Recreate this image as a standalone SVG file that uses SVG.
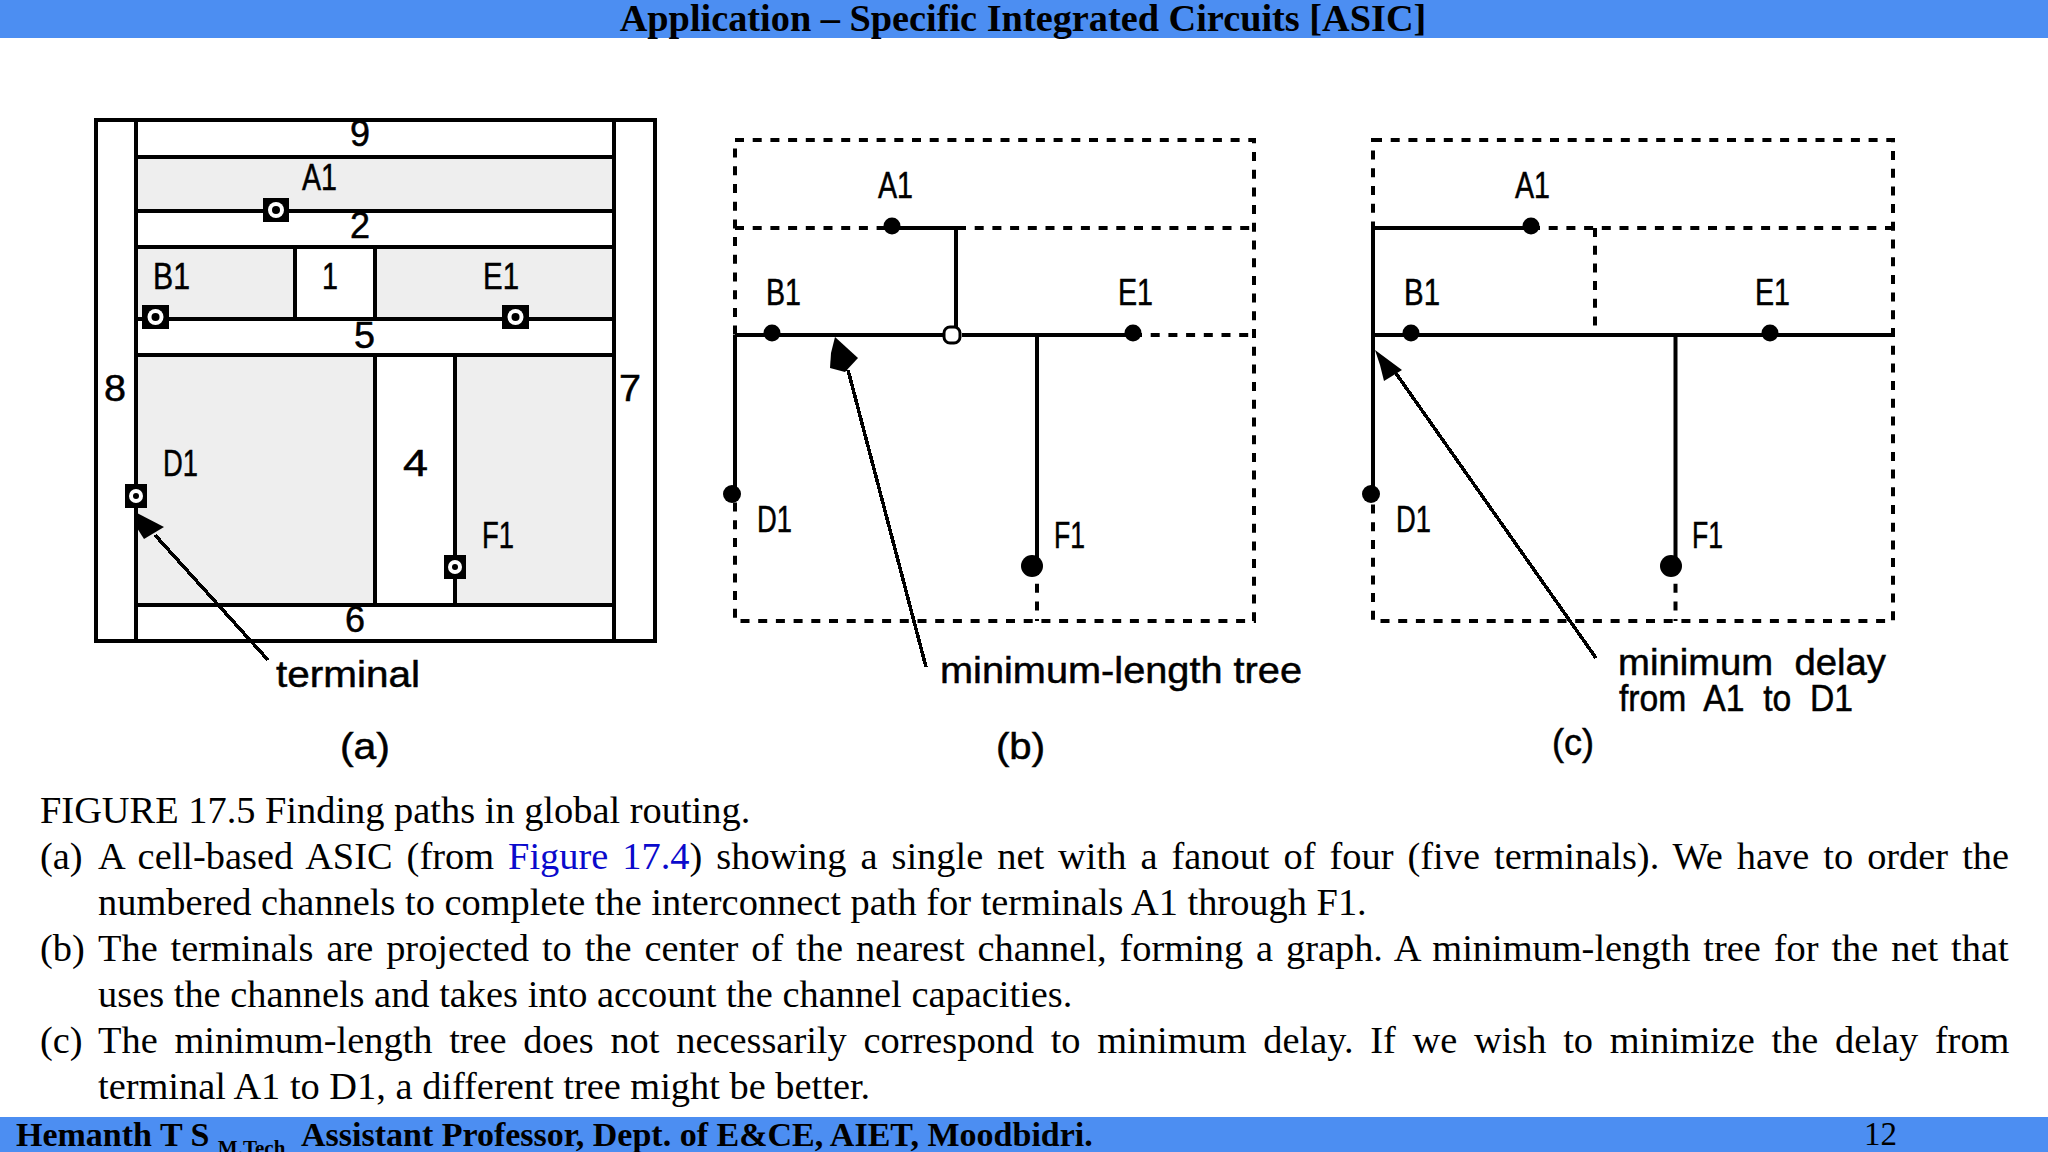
<svg xmlns="http://www.w3.org/2000/svg" width="2048" height="1152" viewBox="0 0 2048 1152">
<style>
.ln{stroke:#000;stroke-width:4;fill:none}
.th{stroke:#000;stroke-width:3.5;fill:none;shape-rendering:crispEdges}
.ds{stroke:#000;stroke-width:4;fill:none;stroke-dasharray:9 8.7}
.lb{font-family:"Liberation Sans",Arial,sans-serif;font-size:37px;fill:#000;stroke:#000;stroke-width:.5}
.bd{font-family:"Liberation Serif","Times New Roman",serif;font-size:38.4px;fill:#000}
.hd{font-family:"Liberation Serif","Times New Roman",serif;font-size:38.3px;font-weight:bold;fill:#000}
.ft{font-family:"Liberation Serif","Times New Roman",serif;font-size:34px;font-weight:bold;fill:#000}
.gr{fill:#eee}
</style>
<rect width="2048" height="1152" fill="#fff"/>
<rect width="2048" height="38" fill="#4c8ef2"/>
<rect y="1117" width="2048" height="35" fill="#4c8ef2"/>
<text class="hd" x="1023" y="31" text-anchor="middle">Application – Specific Integrated Circuits [ASIC]</text>
<g id="panel-a">
<rect class="gr" x="136" y="157" width="478" height="53"/>
<rect class="gr" x="136" y="247" width="159" height="72"/>
<rect class="gr" x="375" y="247" width="239" height="72"/>
<rect class="gr" x="136" y="355" width="239" height="250"/>
<rect class="gr" x="455" y="355" width="159" height="250"/>
<path class="ln" d="M96 120H655V641H96ZM136 120V641M614 120V641M136 157H614M136 211H614M136 247H614M136 319H614M136 355H614M136 605H614M295 247V319M375 247V319M375 355V605M455 355V605"/>
</g>
<g id="terminals">
<g id="t-a1"><rect x="263" y="198" width="26" height="24"/><circle cx="276" cy="210" r="8" fill="#fff"/><circle cx="276" cy="210" r="4"/></g>
<g id="t-b1"><rect x="142" y="305" width="27" height="24"/><circle cx="155.500" cy="317" r="8" fill="#fff"/><circle cx="155.500" cy="317" r="4"/></g>
<g id="t-e1"><rect x="502" y="305" width="27" height="24"/><circle cx="515.500" cy="317" r="8" fill="#fff"/><circle cx="515.500" cy="317" r="4"/></g>
<g id="t-d1"><rect x="125" y="484" width="22" height="24"/><circle cx="136" cy="496" r="7" fill="#fff"/><circle cx="136" cy="496" r="3"/></g>
<g id="t-f1"><rect x="444" y="555" width="22" height="24"/><circle cx="455" cy="567" r="7" fill="#fff"/><circle cx="455" cy="567" r="3"/></g>
</g>
<g id="labels-a">
<text class="lb" x="350" y="146" textLength="20" lengthAdjust="spacingAndGlyphs">9</text>
<text class="lb" x="302" y="190" textLength="35" lengthAdjust="spacingAndGlyphs">A1</text>
<text class="lb" x="350" y="238" textLength="20" lengthAdjust="spacingAndGlyphs">2</text>
<text class="lb" x="153" y="289" textLength="37" lengthAdjust="spacingAndGlyphs">B1</text>
<text class="lb" x="322" y="289" textLength="16" lengthAdjust="spacingAndGlyphs">1</text>
<text class="lb" x="483" y="289" textLength="36" lengthAdjust="spacingAndGlyphs">E1</text>
<text class="lb" x="354" y="348" textLength="21" lengthAdjust="spacingAndGlyphs">5</text>
<text class="lb" x="104" y="401" textLength="22" lengthAdjust="spacingAndGlyphs">8</text>
<text class="lb" x="619" y="401" textLength="22" lengthAdjust="spacingAndGlyphs">7</text>
<text class="lb" x="163" y="476" textLength="35" lengthAdjust="spacingAndGlyphs">D1</text>
<text class="lb" x="403" y="476" textLength="25" lengthAdjust="spacingAndGlyphs">4</text>
<text class="lb" x="482" y="548" textLength="32" lengthAdjust="spacingAndGlyphs">F1</text>
<text class="lb" x="345" y="632" textLength="20" lengthAdjust="spacingAndGlyphs">6</text>
<text class="lb" x="276" y="687" textLength="144" lengthAdjust="spacingAndGlyphs">terminal</text>
<text class="lb" x="340" y="759" textLength="50" lengthAdjust="spacingAndGlyphs">(a)</text>
</g>
<g id="connectors">
<path class="ds" d="M735 140H1254V621H735ZM735 228H893M957 228H1254M1133 335H1254M1037 566V621"/>
<path class="ln" d="M893 228H956V335M735 335H945M962 335H1133M735 335V494M1037 335V566"/>
<path class="ds" d="M1373 140H1893V621H1373ZM1531 228H1893M1595 228V333M1675.500 566V621"/>
<path class="ln" d="M1373 228V494M1373 228H1531M1373 335H1893M1675.500 335V566"/>
<path class="th" d="M155 535L268 660M848 370L926 667M1395 372L1596 658"/>
<path d="M137 513L164 527L144 539L137 528Z"/>
<path d="M835 337L858 358L845 372L830 368L831 353Z"/>
<path d="M1375 350L1402 370L1384 381L1380 365Z"/>
</g>
<g id="panel-b-nodes">
<g id="b-a1"><circle cx="892" cy="226" r="8.500"/></g>
<g id="b-b1"><circle cx="772" cy="333" r="8.500"/></g>
<g id="b-e1"><circle cx="1133" cy="333" r="8.500"/></g>
<g id="b-d1"><circle cx="732" cy="494" r="9"/></g>
<g id="b-f1"><circle cx="1032" cy="566" r="11"/></g>
<g id="b-junction"><rect x="944" y="327" width="16" height="16" rx="6" fill="#fff" stroke="#000" stroke-width="3"/></g>
<text class="lb" x="878" y="198" textLength="35" lengthAdjust="spacingAndGlyphs">A1</text>
<text class="lb" x="766" y="305" textLength="35" lengthAdjust="spacingAndGlyphs">B1</text>
<text class="lb" x="1118" y="305" textLength="35" lengthAdjust="spacingAndGlyphs">E1</text>
<text class="lb" x="757" y="532" textLength="35" lengthAdjust="spacingAndGlyphs">D1</text>
<text class="lb" x="1054" y="548" textLength="31" lengthAdjust="spacingAndGlyphs">F1</text>
<text class="lb" x="940" y="683" textLength="362" lengthAdjust="spacingAndGlyphs">minimum-length tree</text>
<text class="lb" x="996" y="759" textLength="49" lengthAdjust="spacingAndGlyphs">(b)</text>
</g>
<g id="panel-c-nodes">
<g id="c-a1"><circle cx="1531" cy="226" r="8.500"/></g>
<g id="c-b1"><circle cx="1411" cy="333" r="8.500"/></g>
<g id="c-e1"><circle cx="1770" cy="333" r="8.500"/></g>
<g id="c-d1"><circle cx="1371" cy="494" r="9"/></g>
<g id="c-f1"><circle cx="1671" cy="566" r="11"/></g>
<text class="lb" x="1515" y="198" textLength="35" lengthAdjust="spacingAndGlyphs">A1</text>
<text class="lb" x="1404" y="305" textLength="36" lengthAdjust="spacingAndGlyphs">B1</text>
<text class="lb" x="1755" y="305" textLength="35" lengthAdjust="spacingAndGlyphs">E1</text>
<text class="lb" x="1396" y="532" textLength="35" lengthAdjust="spacingAndGlyphs">D1</text>
<text class="lb" x="1692" y="548" textLength="31" lengthAdjust="spacingAndGlyphs">F1</text>
<text class="lb" x="1618" y="675" textLength="268" lengthAdjust="spacingAndGlyphs" xml:space="preserve">minimum  delay</text>
<text class="lb" x="1619" y="711" textLength="234" lengthAdjust="spacingAndGlyphs" xml:space="preserve">from  A1  to  D1</text>
<text class="lb" x="1552" y="755" textLength="42" lengthAdjust="spacingAndGlyphs">(c)</text>
</g>
<g id="caption">
<text class="bd" x="40" y="823">FIGURE 17.5 Finding paths in global routing.</text>
<text class="bd" x="40" y="869">(a)</text>
<text class="bd" x="98" y="869" word-spacing="4.42">A cell-based ASIC (from <tspan fill="#0a0acc">Figure 17.4</tspan>) showing a single net with a fanout of four (five terminals). We have to order the</text>
<text class="bd" x="98" y="915">numbered channels to complete the interconnect path for terminals A1 through F1.</text>
<text class="bd" x="40" y="961">(b)</text>
<text class="bd" x="98" y="961" word-spacing="3.32">The terminals are projected to the center of the nearest channel, forming a graph. A minimum-length tree for the net that</text>
<text class="bd" x="98" y="1007">uses the channels and takes into account the channel capacities.</text>
<text class="bd" x="40" y="1053">(c)</text>
<text class="bd" x="98" y="1053" word-spacing="7.1">The minimum-length tree does not necessarily correspond to minimum delay. If we wish to minimize the delay from</text>
<text class="bd" x="98" y="1099">terminal A1 to D1, a different tree might be better.</text>
</g>
<g id="footer">
<text class="ft" x="16" y="1146">Hemanth T S <tspan font-size="21px" dy="9">M.Tech</tspan><tspan dy="-9" dx="9"> Assistant Professor, Dept. of E&amp;CE, AIET, Moodbidri.</tspan></text>
<text class="bd" style="font-size:33px" x="1864" y="1145">12</text>
</g>
</svg>
